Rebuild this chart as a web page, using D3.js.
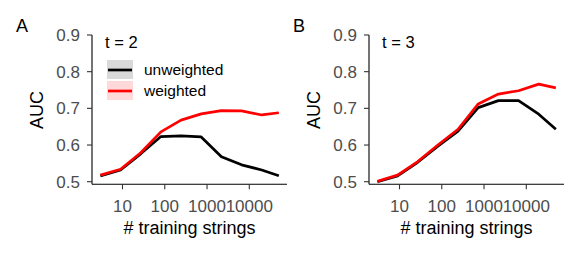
<!DOCTYPE html>
<html>
<head>
<meta charset="utf-8">
<script src="https://cdn.jsdelivr.net/npm/d3@7"></script>
<style>
  body { margin: 0; background: #fff; }
  svg text { font-family: "Liberation Sans", Arial, sans-serif; }
</style>
</head>
<body>
<svg class="myDataviz" width="581" height="255"></svg>
<script>
// training set sizes (x values, shared by both panels)
const trainSizes = [3, 9, 27, 81, 243, 729, 2187, 6561, 19683, 50000];
const xTicks = [10, 100, 1000, 10000];
const yTicks = [0.5, 0.6, 0.7, 0.8, 0.9];

// panel A, t = 2
const aucUnweightedT2 = [0.516, 0.532, 0.576, 0.623, 0.625, 0.622, 0.568, 0.546, 0.532, 0.516];
const aucWeightedT2   = [0.518, 0.534, 0.579, 0.636, 0.668, 0.685, 0.694, 0.693, 0.682, 0.688];

// panel B, t = 3
const aucUnweightedT3 = [0.500, 0.516, 0.553, 0.597, 0.638, 0.702, 0.721, 0.721, 0.684, 0.643];
const aucWeightedT3   = [0.501, 0.518, 0.555, 0.600, 0.643, 0.712, 0.739, 0.748, 0.766, 0.756];

const seriesNames = ["unweighted", "weighted"];
const lineColors = ["#000000", "#ff0000"];
const keyFills = ["#d9d9d9", "#ffd9d9"];

const svg = d3.select(".myDataviz");

function drawPanel(offsetX, letter, tLabel, unweighted, weighted, showLegend) {
    const g = svg.append("g").attr("transform", `translate(${offsetX},0)`);

    // log x scale, pinned so 10 -> 122.5 and 10000 -> 249.3
    const x = d3.scaleLog().domain([10, 10000]).range([122.5, 249.3]);
    const xLeft = 92, xRight = 287;
    const y = d3.scaleLinear().domain([0.5, 0.9]).range([181.7, 35]);
    const yBottom = 184.3;

    // axes lines
    g.append("line").attr("x1", xLeft).attr("x2", xLeft).attr("y1", y(0.9)).attr("y2", yBottom)
        .attr("stroke", "#000").attr("stroke-width", 1.1);
    g.append("line").attr("x1", xLeft).attr("x2", xRight).attr("y1", yBottom).attr("y2", yBottom)
        .attr("stroke", "#000").attr("stroke-width", 1.1);

    // y ticks
    const yt = g.selectAll(".ytick").data(yTicks).join("g").attr("class", "ytick");
    yt.append("line").attr("x1", xLeft - 5).attr("x2", xLeft).attr("y1", d => y(d)).attr("y2", d => y(d))
        .attr("stroke", "#333").attr("stroke-width", 1.1);
    yt.append("text").attr("x", xLeft - 12).attr("y", d => y(d)).attr("dy", "0.36em")
        .attr("text-anchor", "end").attr("fill", "#4d4d4d").style("font-size", "17px")
        .text(d => d3.format(".1f")(d));

    // x ticks
    const xt = g.selectAll(".xtick").data(xTicks).join("g").attr("class", "xtick");
    xt.append("line").attr("x1", d => x(d)).attr("x2", d => x(d)).attr("y1", yBottom).attr("y2", yBottom + 5)
        .attr("stroke", "#333").attr("stroke-width", 1.1);
    xt.append("text").attr("x", d => x(d)).attr("y", 211.5)
        .attr("text-anchor", "middle").attr("fill", "#4d4d4d").style("font-size", "17px")
        .text(d => d);

    // axis titles
    g.append("text").attr("x", (xLeft + xRight) / 2).attr("y", 234)
        .attr("text-anchor", "middle").style("font-size", "18px").text("# training strings");
    g.append("text").attr("transform", `translate(${xLeft - 49},110) rotate(-90)`)
        .attr("text-anchor", "middle").style("font-size", "18px").text("AUC");

    // panel letter
    g.append("text").attr("x", 16).attr("y", 32).style("font-size", "18px").text(letter);

    // t label
    g.append("text").attr("x", xLeft + 13).attr("y", 48).style("font-size", "16.5px").text(tLabel);

    const line = d3.line().x(d => x(d[0])).y(d => y(d[1]));
    [unweighted, weighted].forEach((vals, i) => {
        g.append("path")
            .datum(trainSizes.map((s, j) => [s, vals[j]]))
            .attr("fill", "none")
            .attr("stroke", lineColors[i])
            .attr("stroke-width", 2.7)
            .attr("stroke-linejoin", "round")
            .attr("d", line);
    });

    if (showLegend) {
        seriesNames.forEach((name, i) => {
            const ky = 60 + i * 21;
            g.append("rect").attr("x", 107).attr("y", ky).attr("width", 26).attr("height", 19)
                .attr("fill", keyFills[i]);
            g.append("line").attr("x1", 108).attr("x2", 132).attr("y1", ky + 10).attr("y2", ky + 10)
                .attr("stroke", lineColors[i]).attr("stroke-width", 2.7);
            g.append("text").attr("x", 144).attr("y", ky + 15).style("font-size", "15.5px").text(name);
        });
    }
}

drawPanel(0, "A", "t = 2", aucUnweightedT2, aucWeightedT2, true);
drawPanel(277, "B", "t = 3", aucUnweightedT3, aucWeightedT3, false);
</script>
</body>
</html>
